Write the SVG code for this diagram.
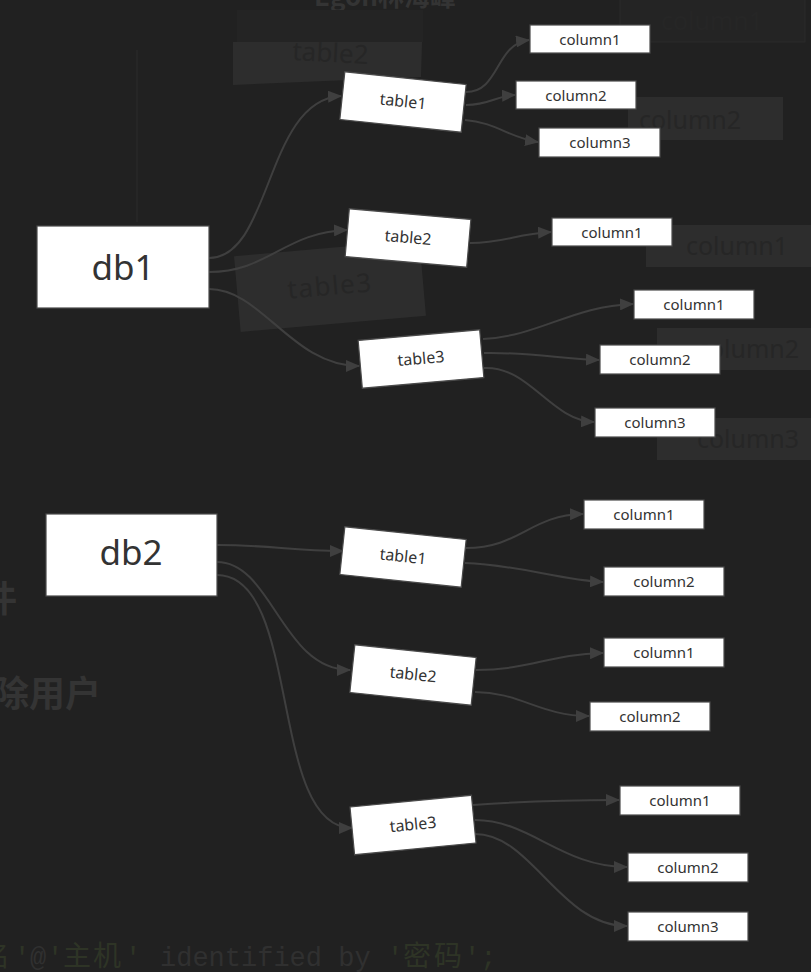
<svg xmlns="http://www.w3.org/2000/svg" width="811" height="972" viewBox="0 0 811 972">
<style>
.node rect{fill:#ffffff;stroke:#4a4a4a;stroke-width:1.2}
.node text{font-family:"Noto Sans","Open Sans",sans-serif;fill:#333333;text-anchor:middle}
.db text{font-size:35px}
.tbl text{font-size:16px}
.col text{font-size:15px}
.edge{fill:none;stroke:#3f3f3f;stroke-width:2;marker-end:url(#arr)}
.gbox{fill:#2d2d2d}
.gtxt{font-family:"Noto Sans","Open Sans",sans-serif;fill:#262626;text-anchor:middle}
.gcjk{font-family:"Noto Sans CJK SC",sans-serif;font-weight:bold;fill:#343434}
.mono{font-family:"Liberation Mono",monospace;font-size:27px;fill:#303030}
.mcjk{font-family:"Noto Sans CJK SC",sans-serif;font-size:28px;fill:#2e3426}
.molv{font-family:"Liberation Mono",monospace;font-size:27px;fill:#2e3426}
</style>
<defs>
<marker id="arr" markerUnits="userSpaceOnUse" markerWidth="14" markerHeight="12" refX="13" refY="6" orient="auto">
<path d="M0,0 L14,6 L0,12 z" fill="#3f3f3f"/>
</marker>
</defs>
<rect x="0" y="0" width="811" height="972" fill="#212121"/>
<g id="ghost">
<text class="gcjk" x="385" y="6" font-size="26" text-anchor="middle">Egon林海峰</text>
<rect x="237" y="10" width="186" height="32" fill="#242424"/>
<line x1="137" y1="50" x2="137" y2="222" stroke="#292929" stroke-width="1.5"/>
<polygon class="gbox" points="233,42 422,42 421,77 233,85"/>
<text class="gtxt" x="330" y="62" font-size="26" transform="rotate(3 330 62)">table2</text>
<g transform="rotate(-5 330 286)">
<rect class="gbox" x="237" y="248" width="186" height="76"/>
<text class="gtxt" x="330" y="295" font-size="26" letter-spacing="1.5">table3</text>
</g>
<rect x="620" y="-4" width="185" height="46" fill="#242424" stroke="#2a2a2a"/>
<text class="gtxt" x="712" y="30" font-size="25" fill="#282828">column1</text>
<rect class="gbox" x="628" y="97" width="155" height="43"/>
<text class="gtxt" x="690" y="129" font-size="25">column2</text>
<rect class="gbox" x="646" y="225" width="165" height="42"/>
<text class="gtxt" x="737" y="255" font-size="25">column1</text>
<rect class="gbox" x="657" y="328" width="154" height="42"/>
<text class="gtxt" x="748" y="358" font-size="25">column2</text>
<rect class="gbox" x="657" y="418" width="154" height="42"/>
<text class="gtxt" x="748" y="448" font-size="25">column3</text>
<text class="gcjk" x="-19" y="612" font-size="36">件</text>
<text class="gcjk" x="-7" y="707" font-size="36">除用户</text>
<text y="966"><tspan class="mcjk" x="-18">名</tspan><tspan class="molv" x="14">'</tspan><tspan class="mono" x="30">@</tspan><tspan class="molv" x="47">'</tspan><tspan class="mcjk" x="63">主</tspan><tspan class="mcjk" x="93">机</tspan><tspan class="molv" x="125">'</tspan><tspan class="mono" x="160">identified by</tspan><tspan class="molv" x="387">'</tspan><tspan class="mcjk" x="403">密</tspan><tspan class="mcjk" x="434">码</tspan><tspan class="molv" x="464">';</tspan></text>
</g>
<g id="connectors">
<path class="edge" d="M209,258 C272,258 265,100 341,96"/>
<path class="edge" d="M209,272 C268,272 285,232 347,230"/>
<path class="edge" d="M209,289 C262,289 292,366 359,366"/>
<path class="edge" d="M466,92 C500,92 495,44 529,40"/>
<path class="edge" d="M466,105 C490,105 495,96 515,95"/>
<path class="edge" d="M465,120 C495,122 510,138 538,142"/>
<path class="edge" d="M470,243 C505,243 515,234 551,232"/>
<path class="edge" d="M483,339 C540,336 572,306 633,304"/>
<path class="edge" d="M484,353 C530,352 562,359 599,360"/>
<path class="edge" d="M484,368 C530,366 550,420 594,422"/>
<path class="edge" d="M217,545 C272,545 290,551 343,551"/>
<path class="edge" d="M217,562 C272,562 282,670 350,670"/>
<path class="edge" d="M217,575 C302,575 268,828 352,828"/>
<path class="edge" d="M466,548 C520,548 530,515 583,514"/>
<path class="edge" d="M465,563 C520,565 560,580 603,582"/>
<path class="edge" d="M476,670 C530,670 550,654 603,653"/>
<path class="edge" d="M475,692 C520,692 540,716 589,716"/>
<path class="edge" d="M473,805 C530,801 570,800 619,800"/>
<path class="edge" d="M475,820 C530,820 562,867 627,867"/>
<path class="edge" d="M475,834 C532,834 560,926 627,926"/>
</g>
<g id="db1" class="node db"><rect x="37" y="226" width="172" height="82"/><text x="123" y="280">db1</text></g>
<g id="db2" class="node db"><rect x="46" y="514" width="171" height="82"/><text x="131" y="565">db2</text></g>
<g id="db1-table1" class="node tbl" transform="rotate(6 403 102)"><rect x="342" y="78" width="122" height="48"/><text x="403" y="107">table1</text></g>
<g id="db1-table2" class="node tbl" transform="rotate(5 408 238)"><rect x="347" y="214" width="122" height="48"/><text x="408" y="243">table2</text></g>
<g id="db1-table3" class="node tbl" transform="rotate(-5 421 359)"><rect x="360" y="335" width="122" height="48"/><text x="421" y="364">table3</text></g>
<g id="db2-table1" class="node tbl" transform="rotate(6 403 557)"><rect x="342" y="533" width="122" height="48"/><text x="403" y="562">table1</text></g>
<g id="db2-table2" class="node tbl" transform="rotate(6 413 675)"><rect x="352" y="651" width="122" height="48"/><text x="413" y="680">table2</text></g>
<g id="db2-table3" class="node tbl" transform="rotate(-5.5 413 825)"><rect x="352" y="801" width="122" height="48"/><text x="413" y="830">table3</text></g>
<g id="db1-t1-column1" class="node col"><rect x="530" y="25" width="120" height="28"/><text x="590" y="45">column1</text></g>
<g id="db1-t1-column2" class="node col"><rect x="516" y="81" width="120" height="28"/><text x="576" y="101">column2</text></g>
<g id="db1-t1-column3" class="node col"><rect x="539" y="128" width="121" height="29"/><text x="600" y="148">column3</text></g>
<g id="db1-t2-column1" class="node col"><rect x="552" y="218" width="120" height="28"/><text x="612" y="238">column1</text></g>
<g id="db1-t3-column1" class="node col"><rect x="634" y="290" width="120" height="29"/><text x="694" y="310">column1</text></g>
<g id="db1-t3-column2" class="node col"><rect x="600" y="345" width="120" height="29"/><text x="660" y="365">column2</text></g>
<g id="db1-t3-column3" class="node col"><rect x="595" y="408" width="120" height="29"/><text x="655" y="428">column3</text></g>
<g id="db2-t1-column1" class="node col"><rect x="584" y="500" width="120" height="29"/><text x="644" y="520">column1</text></g>
<g id="db2-t1-column2" class="node col"><rect x="604" y="567" width="120" height="29"/><text x="664" y="587">column2</text></g>
<g id="db2-t2-column1" class="node col"><rect x="604" y="638" width="120" height="29"/><text x="664" y="658">column1</text></g>
<g id="db2-t2-column2" class="node col"><rect x="590" y="702" width="120" height="29"/><text x="650" y="722">column2</text></g>
<g id="db2-t3-column1" class="node col"><rect x="620" y="786" width="120" height="29"/><text x="680" y="806">column1</text></g>
<g id="db2-t3-column2" class="node col"><rect x="628" y="853" width="120" height="29"/><text x="688" y="873">column2</text></g>
<g id="db2-t3-column3" class="node col"><rect x="628" y="912" width="120" height="29"/><text x="688" y="932">column3</text></g>
</svg>
